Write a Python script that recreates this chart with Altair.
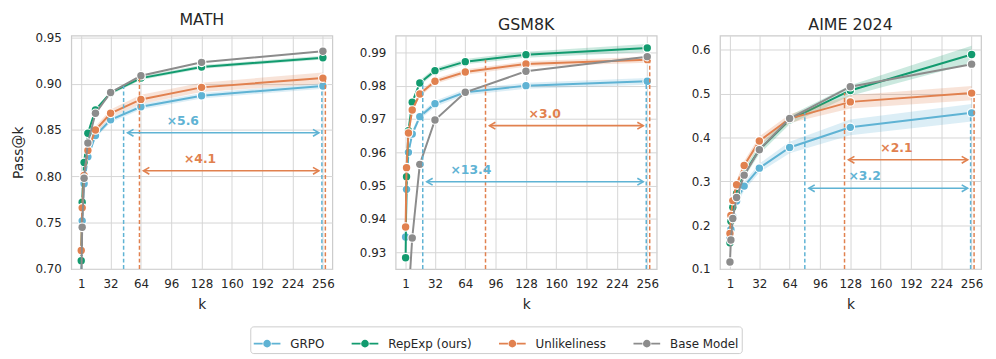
import altair as alt
import pandas as pd
import math

K = [1, 2, 4, 8, 16, 32, 64, 128, 256]
X_TICKS = [1, 32, 64, 96, 128, 160, 192, 224, 256]
METHODS = ["GRPO", "RepExp (ours)", "Unlikeliness", "Base Model"]
COLORS = ["#5fb3d4", "#129b6f", "#e1814f", "#8c8c8c"]

# ---- MATH ----
MATH_GRPO = [0.690, 0.752, 0.792, 0.821, 0.844, 0.861, 0.875, 0.887, 0.8975]
MATH_REPEXP = [0.709, 0.772, 0.815, 0.8465, 0.8715, 0.890, 0.906, 0.918, 0.928]
MATH_UNLIKE = [0.720, 0.766, 0.801, 0.828, 0.850, 0.868, 0.883, 0.896, 0.906]
MATH_BASE = [0.680, 0.745, 0.798, 0.836, 0.868, 0.8905, 0.9085, 0.923, 0.935]
MATH_GRPO_SD = [0.004, 0.004, 0.003, 0.003, 0.003, 0.003, 0.003, 0.003, 0.003]
MATH_REPEXP_SD = [0.003, 0.003, 0.002, 0.002, 0.002, 0.002, 0.002, 0.002, 0.002]
MATH_UNLIKE_SD = [0.005, 0.004, 0.004, 0.004, 0.004, 0.004, 0.005, 0.005, 0.006]

# ---- GSM8K ----
GSM_GRPO = [0.9346, 0.9489, 0.9600, 0.9655, 0.9707, 0.9746, 0.9780, 0.9800, 0.9813]
GSM_REPEXP = [0.9284, 0.9527, 0.9665, 0.9750, 0.9808, 0.9845, 0.9872, 0.9893, 0.9913]
GSM_UNLIKE = [0.9376, 0.9554, 0.9658, 0.9727, 0.9775, 0.9813, 0.9841, 0.9865, 0.9878]
GSM_BASE = [0.880, 0.900, 0.916, 0.9343, 0.9564, 0.9697, 0.9780, 0.9843, 0.9887]
GSM_GRPO_SD = [0.0010, 0.0010, 0.0010, 0.0010, 0.0009, 0.0009, 0.0009, 0.0009, 0.0010]
GSM_REPEXP_SD = [0.0010, 0.0010, 0.0008, 0.0008, 0.0008, 0.0008, 0.0008, 0.0009, 0.0012]
GSM_UNLIKE_SD = [0.0010, 0.0010, 0.0008, 0.0008, 0.0008, 0.0008, 0.0008, 0.0008, 0.0009]

# ---- AIME 2024 ----
AIME_GRPO = [0.170, 0.190, 0.220, 0.255, 0.289, 0.330, 0.377, 0.423, 0.456]
AIME_REPEXP = [0.160, 0.209, 0.241, 0.272, 0.318, 0.372, 0.440, 0.507, 0.589]
AIME_UNLIKE = [0.181, 0.222, 0.256, 0.292, 0.336, 0.392, 0.443, 0.481, 0.501]
AIME_BASE = [0.116, 0.166, 0.215, 0.263, 0.314, 0.372, 0.443, 0.5155, 0.567]
AIME_GRPO_SD = [0.010, 0.010, 0.010, 0.010, 0.010, 0.010, 0.013, 0.018, 0.020]
AIME_REPEXP_SD = [0.010, 0.010, 0.010, 0.010, 0.010, 0.010, 0.010, 0.012, 0.020]
AIME_UNLIKE_SD = [0.010, 0.010, 0.010, 0.010, 0.010, 0.010, 0.010, 0.015, 0.016]

ZERO_SD = [0.0] * 9

# speed-up annotations: (method, ratio, arrow level)
MATH_ANN = [("GRPO", 5.6, 0.847), ("Unlikeliness", 4.1, 0.806)]
GSM_ANN = [("GRPO", 13.4, 0.9512), ("Unlikeliness", 3.0, 0.968)]
AIME_ANN = [("GRPO", 3.2, 0.284), ("Unlikeliness", 2.1, 0.349)]

X_DOMAIN = [-9.5, 266]
FONT = "DejaVu Sans"
TXT = "#262626"

LEGEND_SYMBOL = (
    "M-1,0H-0.33M0.33,0H1"
    "M-0.22,0A0.22,0.22,0,1,0,0.22,0A0.22,0.22,0,1,0,-0.22,0"
    "M-0.13,0A0.13,0.13,0,1,0,0.13,0A0.13,0.13,0,1,0,-0.13,0"
    "M-0.05,0A0.05,0.05,0,1,0,0.05,0A0.05,0.05,0,1,0,-0.05,0"
)
HEAD_LEFT = "M1.2,-0.7L0,0L1.2,0.7"
HEAD_RIGHT = "M-1.2,-0.7L0,0L-1.2,0.7"


def panel(title, series, sds, ydom, yticks, yfmt, ann, first):
    rows = []
    for m in METHODS:
        for k, v, s in zip(K, series[m], sds[m]):
            rows.append({"k": k, "v": v, "lo": v - s, "hi": v + s, "method": m})
    df = pd.DataFrame(rows)

    xs = alt.Scale(domain=X_DOMAIN, nice=False, zero=False)
    ys = alt.Scale(domain=ydom, nice=False, zero=False)
    cs = alt.Scale(domain=METHODS, range=COLORS)
    xax = alt.Axis(values=X_TICKS, title="k", format="d")
    yax = alt.Axis(values=yticks, format=yfmt, title="Pass@k" if first else None)
    leg = alt.Legend(
        title=None,
        orient="none",
        legendX=181,
        legendY=294,
        direction="horizontal",
        symbolType=LEGEND_SYMBOL,
        symbolSize=729,
        symbolStrokeWidth=1.8,
    )
    color = alt.Color("method:N", scale=cs, legend=leg)

    base = alt.Chart(df)
    layers = []
    for m in METHODS:
        b = base.transform_filter(alt.datum.method == m)
        if max(sds[m]) > 0:
            layers.append(
                b.mark_area(opacity=0.22, clip=True).encode(
                    x=alt.X("k:Q", scale=xs, axis=xax),
                    y=alt.Y("lo:Q", scale=ys, axis=yax),
                    y2="hi:Q",
                    color=color,
                )
            )
        layers.append(
            b.mark_line(strokeWidth=2, clip=True).encode(
                x=alt.X("k:Q", scale=xs, axis=xax),
                y=alt.Y("v:Q", scale=ys, axis=yax),
                color=color,
            )
        )
        layers.append(
            b.mark_point(filled=True, size=95, opacity=1, color="white", clip=True).encode(
                x=alt.X("k:Q", scale=xs, axis=xax),
                y=alt.Y("v:Q", scale=ys, axis=yax),
            )
        )
        layers.append(
            b.mark_point(filled=True, size=56, opacity=1, clip=True).encode(
                x=alt.X("k:Q", scale=xs, axis=xax),
                y=alt.Y("v:Q", scale=ys, axis=yax),
                color=color,
            )
        )

    # annotations
    arows = []
    for m, ratio, level in ann:
        kstar = 256 / ratio
        top = series[m][-1]
        arows.append({
            "method": m, "kstar": kstar, "kend": 256, "top": top, "bottom": ydom[0],
            "level": level, "label": "\u00d7" + f"{ratio:.1f}",
            "kmid": math.sqrt(kstar * 256),
        })
    adf = pd.DataFrame(arows)
    ab = alt.Chart(adf)
    ann_color = alt.Color("method:N", scale=cs, legend=None)
    layers.append(
        ab.mark_rule(strokeWidth=1.5, strokeDash=[4, 2.5]).encode(
            x=alt.X("kstar:Q", scale=xs, axis=xax),
            y=alt.Y("bottom:Q", scale=ys, axis=yax),
            y2="top:Q",
            color=ann_color,
        )
    )
    for m, off in (("GRPO", -1), ("Unlikeliness", 2.5)):
        layers.append(
            ab.transform_filter(alt.datum.method == m)
            .mark_rule(strokeWidth=1.5, strokeDash=[4, 2.5], xOffset=off, x2Offset=off)
            .encode(
                x=alt.X("kend:Q", scale=xs, axis=xax),
                y=alt.Y("bottom:Q", scale=ys, axis=yax),
                y2="top:Q",
                color=ann_color,
            )
        )
    layers.append(
        ab.mark_rule(strokeWidth=1.6, xOffset=4, x2Offset=-4).encode(
            x=alt.X("kstar:Q", scale=xs, axis=xax),
            x2="kend:Q",
            y=alt.Y("level:Q", scale=ys, axis=yax),
            color=ann_color,
        )
    )
    layers.append(
        ab.mark_point(shape=HEAD_LEFT, size=100, filled=False, strokeWidth=1.6, opacity=1, xOffset=4).encode(
            x=alt.X("kstar:Q", scale=xs, axis=xax),
            y=alt.Y("level:Q", scale=ys, axis=yax),
            color=ann_color,
        )
    )
    layers.append(
        ab.mark_point(shape=HEAD_RIGHT, size=100, filled=False, strokeWidth=1.6, opacity=1, xOffset=-4).encode(
            x=alt.X("kend:Q", scale=xs, axis=xax),
            y=alt.Y("level:Q", scale=ys, axis=yax),
            color=ann_color,
        )
    )
    layers.append(
        ab.mark_text(font=FONT, fontSize=12.5, fontWeight="bold", baseline="middle", align="center", dy=-12).encode(
            x=alt.X("kmid:Q", scale=xs, axis=xax),
            y=alt.Y("level:Q", scale=ys, axis=yax),
            text="label:N",
            color=ann_color,
        )
    )

    return alt.layer(*layers).properties(
        width=264,
        height=236,
        title=alt.Title(title, fontSize=16, fontWeight="normal", font=FONT, color=TXT, offset=3),
    )


p1 = panel(
    "MATH",
    {"GRPO": MATH_GRPO, "RepExp (ours)": MATH_REPEXP, "Unlikeliness": MATH_UNLIKE, "Base Model": MATH_BASE},
    {"GRPO": MATH_GRPO_SD, "RepExp (ours)": MATH_REPEXP_SD, "Unlikeliness": MATH_UNLIKE_SD, "Base Model": ZERO_SD},
    [0.70, 0.9518], [0.70, 0.75, 0.80, 0.85, 0.90, 0.95], ".2f", MATH_ANN, True,
)
p2 = panel(
    "GSM8K",
    {"GRPO": GSM_GRPO, "RepExp (ours)": GSM_REPEXP, "Unlikeliness": GSM_UNLIKE, "Base Model": GSM_BASE},
    {"GRPO": GSM_GRPO_SD, "RepExp (ours)": GSM_REPEXP_SD, "Unlikeliness": GSM_UNLIKE_SD, "Base Model": ZERO_SD},
    [0.925, 0.995], [0.93, 0.94, 0.95, 0.96, 0.97, 0.98, 0.99], ".2f", GSM_ANN, False,
)
p3 = panel(
    "AIME 2024",
    {"GRPO": AIME_GRPO, "RepExp (ours)": AIME_REPEXP, "Unlikeliness": AIME_UNLIKE, "Base Model": AIME_BASE},
    {"GRPO": AIME_GRPO_SD, "RepExp (ours)": AIME_REPEXP_SD, "Unlikeliness": AIME_UNLIKE_SD, "Base Model": ZERO_SD},
    [0.1, 0.632], [0.1, 0.2, 0.3, 0.4, 0.5, 0.6], ".1f", AIME_ANN, False,
)

chart = (
    alt.hconcat(p1, p2, p3, spacing=20)
    .resolve_scale(x="independent", y="independent", color="shared")
    .properties(padding={"left": 3, "top": 2, "right": 4, "bottom": 0})
    .configure_view(stroke="#cccccc", strokeWidth=1.25)
    .configure_axis(
        grid=True, gridColor="#d6d6d6", gridWidth=1, domain=False, ticks=False, tickSize=0,
        labelFont=FONT, labelFontSize=12, labelColor=TXT,
        titleFont=FONT, titleFontSize=14, titleFontWeight="normal", titleColor=TXT,
    )
    .configure_axisY(labelPadding=10, minExtent=40, maxExtent=40, titlePadding=6)
    .configure_axisX(labelPadding=10, titlePadding=8)
    .configure_legend(
        labelFont=FONT, labelFontSize=12, labelColor=TXT,
        strokeColor="#cccccc", fillColor="white", cornerRadius=3, padding=2.5,
        labelOffset=9, columnPadding=23, symbolOpacity=1,
    )
    .configure_title(font=FONT, color=TXT)
)

chart.save("out.html", embed_options={"renderer": "svg", "actions": False})
